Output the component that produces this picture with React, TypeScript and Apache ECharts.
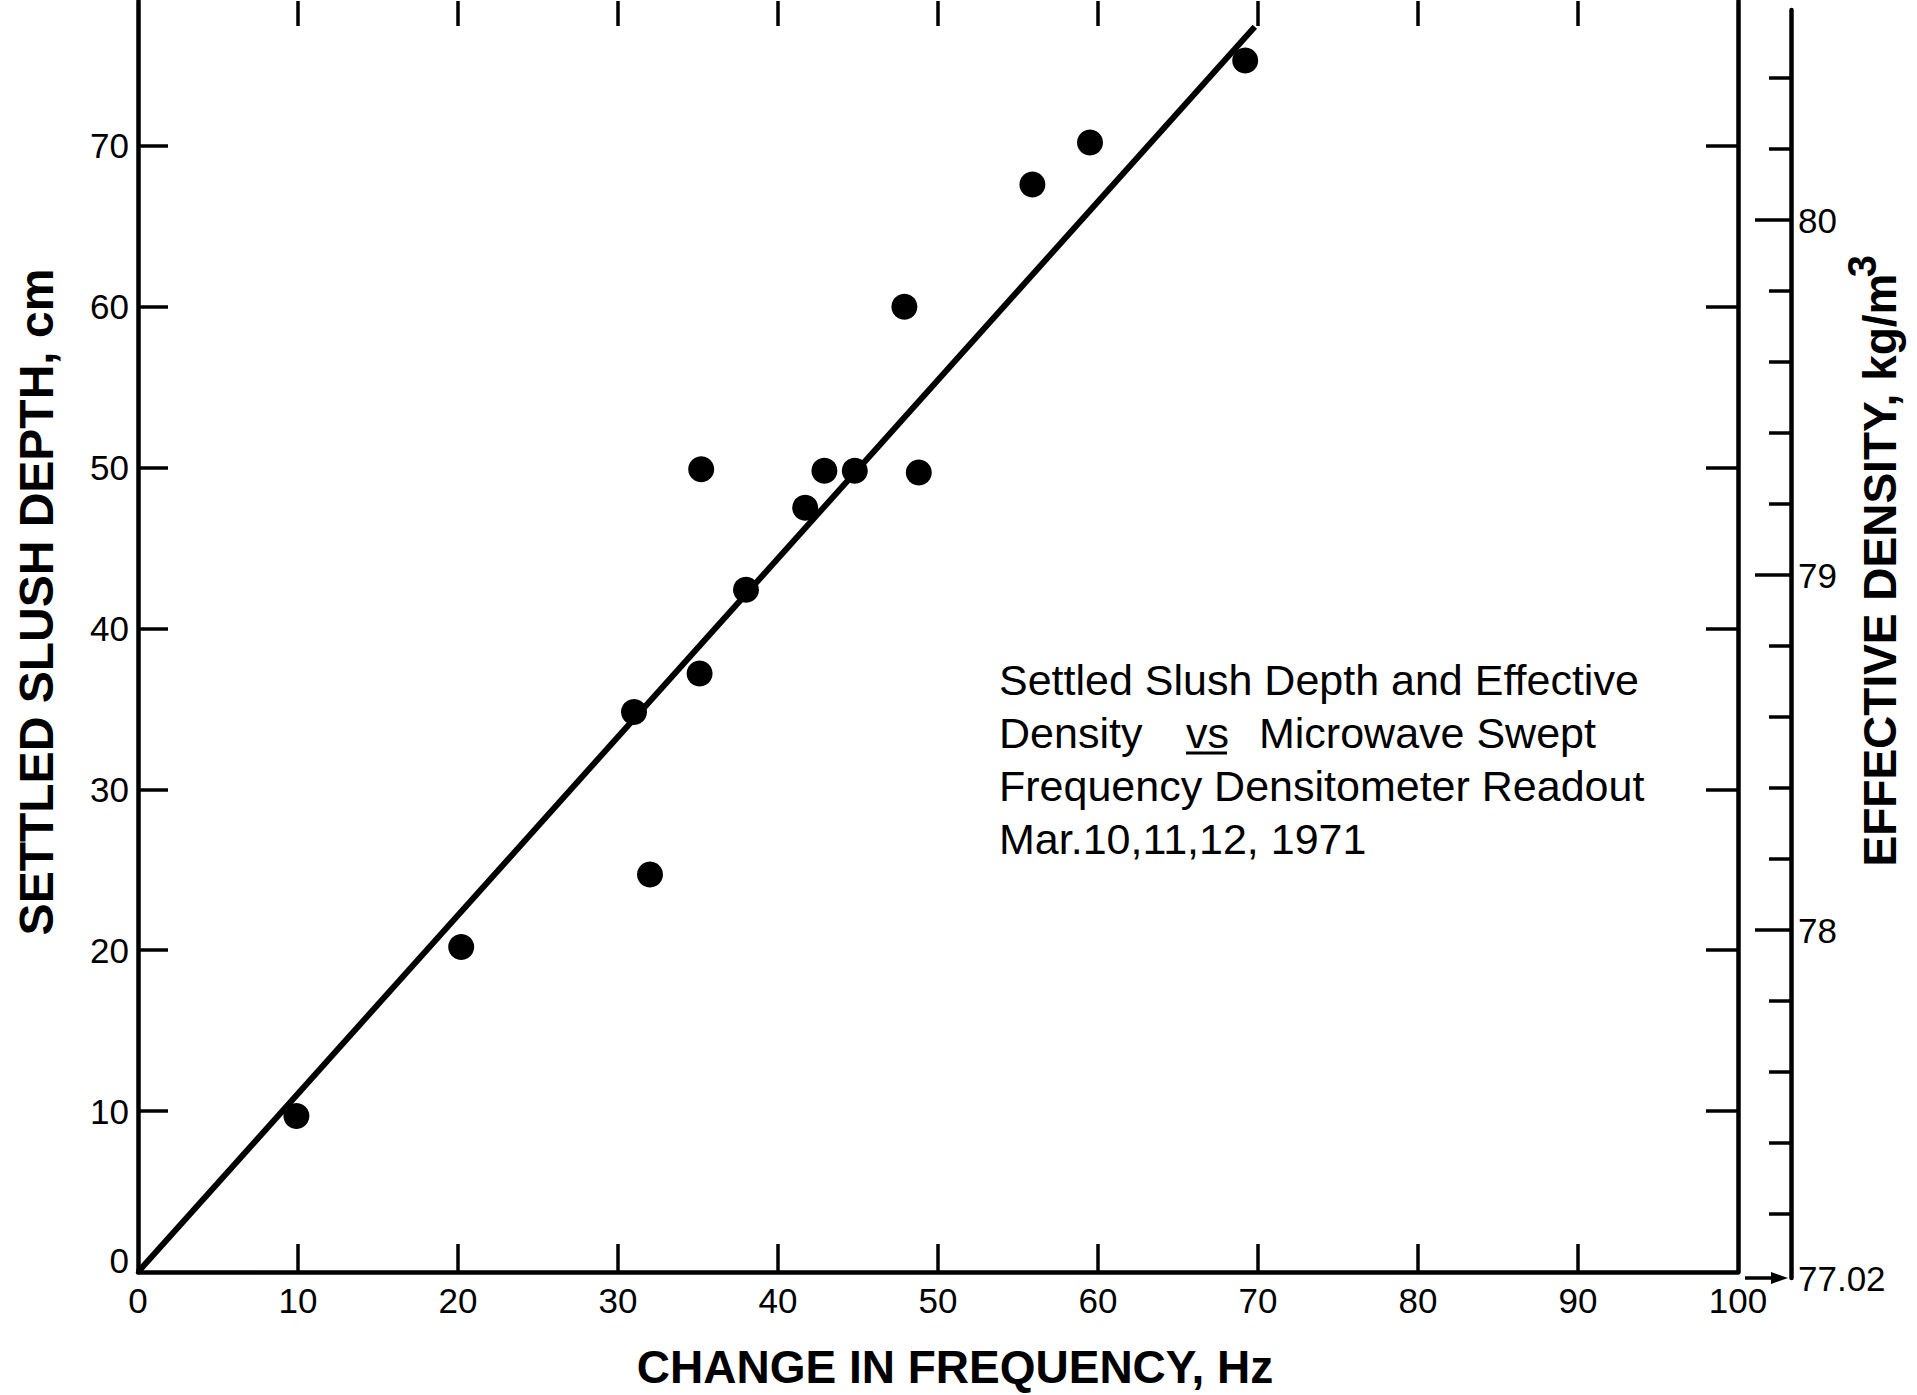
import React, { useEffect, useRef } from "react";
import * as echarts from "echarts";

// ---- data ----
const freqHz = [9.9, 20.2, 31.0, 32.0, 35.1, 35.2, 38.0, 41.7, 42.9, 44.8, 47.9, 48.8, 55.9, 59.5, 69.2];
const depthCm = [9.7, 20.2, 34.8, 24.7, 37.2, 49.9, 42.4, 47.5, 49.8, 49.8, 60.0, 49.7, 67.6, 70.2, 75.3];
const fitFreq = [0, 69.8];
const fitDepth = [0, 77.4];

const xTickLabels = [0, 10, 20, 30, 40, 50, 60, 70, 80, 90, 100];
const xInnerTicks = [10, 20, 30, 40, 50, 60, 70, 80, 90];
const depthTickLabels = [0, 10, 20, 30, 40, 50, 60, 70];
const depthInnerTicks = [10, 20, 30, 40, 50, 60, 70];
const densityLabels = [77.02, 78, 79, 80];
const densityMajorTicks = [78, 79, 80];
const densityMinorTicks = [77.2, 77.4, 77.6, 77.8, 78.2, 78.4, 78.6, 78.8, 79.2, 79.4, 79.6, 79.8, 80.2, 80.4];

const xName = "CHANGE IN FREQUENCY, Hz";
const leftName = "SETTLED SLUSH DEPTH, cm";
const rightName = "EFFECTIVE DENSITY, kg/m";
const rightNameSup = "3";
const noteLine1 = "Settled Slush Depth and Effective";
const noteLine2a = "Density";
const noteLine2b = "vs";
const noteLine2c = "Microwave Swept";
const noteLine3 = "Frequency Densitometer Readout";
const noteLine4 = "Mar.10,11,12, 1971";

const FONT = "'Liberation Sans', Arial, Helvetica, sans-serif";
const BLACK = "#000";

export default function App() {
  const ref = useRef<HTMLDivElement>(null);

  useEffect(() => {
    if (!ref.current) return;
    const chart = echarts.init(ref.current, undefined, { renderer: "svg" });
    const lineW = 4.5;
    const tickW = 3.5;

    const option: any = {
      animation: false,
      backgroundColor: "#fff",
      grid: [
        { left: 138, right: 179, top: 1, bottom: 123 },
        { left: 138, right: 126, top: 10, bottom: 117 },
      ],
      xAxis: [
        {
          type: "value",
          gridIndex: 0,
          position: "bottom",
          min: 0,
          max: 100,
          interval: 10,
          axisLine: { show: true, onZero: false, lineStyle: { color: BLACK, width: lineW } },
          axisTick: { show: true, inside: true, length: 28, customValues: xInnerTicks, lineStyle: { color: BLACK, width: tickW } },
          axisLabel: { show: true, customValues: xTickLabels, margin: 11, color: BLACK, fontSize: 35, fontFamily: FONT },
          splitLine: { show: false },
        },
        {
          type: "value",
          gridIndex: 0,
          position: "top",
          min: 0,
          max: 100,
          interval: 10,
          axisLine: { show: false, onZero: false },
          axisTick: { show: true, inside: true, length: 25, customValues: xInnerTicks, lineStyle: { color: BLACK, width: tickW } },
          axisLabel: { show: false },
          splitLine: { show: false },
        },
        {
          type: "value",
          gridIndex: 1,
          min: 0,
          max: 1,
          show: false,
          axisLine: { onZero: false },
          splitLine: { show: false },
        },
      ],
      yAxis: [
        {
          type: "value",
          gridIndex: 0,
          position: "left",
          min: 0,
          max: 79,
          axisLine: { show: true, onZero: false, lineStyle: { color: BLACK, width: lineW } },
          axisTick: { show: true, inside: true, length: 30, customValues: depthInnerTicks, lineStyle: { color: BLACK, width: tickW } },
          axisLabel: {
            show: true,
            customValues: depthTickLabels,
            margin: 9,
            color: BLACK,
            fontSize: 35,
            fontFamily: FONT,
            formatter: (v: number) => (v === 0 ? "{z|0}" : String(v)),
            rich: { z: { fontSize: 35, fontFamily: FONT, color: BLACK, padding: [0, 0, 24, 0] } },
          },
          splitLine: { show: false },
        },
        {
          type: "value",
          gridIndex: 0,
          position: "right",
          min: 0,
          max: 79,
          axisLine: { show: true, onZero: false, lineStyle: { color: BLACK, width: lineW } },
          axisTick: { show: true, inside: true, length: 32, customValues: depthInnerTicks, lineStyle: { color: BLACK, width: tickW } },
          axisLabel: { show: false },
          splitLine: { show: false },
        },
        {
          type: "value",
          gridIndex: 1,
          position: "right",
          min: 77.02,
          max: 80.592,
          axisLine: { show: true, onZero: false, lineStyle: { color: BLACK, width: lineW } },
          axisTick: { show: true, inside: true, length: 36, customValues: densityMajorTicks, lineStyle: { color: BLACK, width: tickW } },
          axisLabel: { show: true, customValues: densityLabels, margin: 7, color: BLACK, fontSize: 35, fontFamily: FONT },
          splitLine: { show: false },
        },
        {
          type: "value",
          gridIndex: 1,
          position: "right",
          min: 77.02,
          max: 80.592,
          axisLine: { show: false, onZero: false },
          axisTick: { show: true, inside: true, length: 22, customValues: densityMinorTicks, lineStyle: { color: BLACK, width: tickW } },
          axisLabel: { show: false },
          splitLine: { show: false },
        },
      ],
      series: [
        {
          type: "line",
          xAxisIndex: 0,
          yAxisIndex: 0,
          data: fitFreq.map((x, i) => [x, fitDepth[i]]),
          symbol: "none",
          lineStyle: { color: BLACK, width: 6, opacity: 1 },
          z: 2,
          silent: true,
        },
        {
          type: "scatter",
          xAxisIndex: 0,
          yAxisIndex: 0,
          data: freqHz.map((x, i) => [x, depthCm[i]]),
          symbol: "circle",
          symbolSize: 26,
          itemStyle: { color: BLACK, opacity: 1 },
          z: 3,
          silent: true,
        },
      ],
    };

    chart.setOption(option);

    const yArrow = chart.convertToPixel({ yAxisIndex: 2 }, 77.02) as number;
    const xBox = chart.convertToPixel({ xAxisIndex: 0 }, 100) as number;
    const xAx = chart.convertToPixel({ xAxisIndex: 2 }, 1) as number;

    const boldName = (text: string, x: number, y: number, size: number, rotation = 0) => ({
      type: "text",
      x,
      y,
      rotation,
      silent: true,
      style: {
        text,
        fill: BLACK,
        fontSize: size,
        fontWeight: "bold",
        fontFamily: FONT,
        textAlign: "center",
        textVerticalAlign: "middle",
      },
    });
    const note = (text: string, x: number, y: number) => ({
      type: "text",
      x,
      y,
      silent: true,
      style: {
        text,
        fill: BLACK,
        fontSize: 43,
        fontFamily: FONT,
        textAlign: "left",
        textVerticalAlign: "middle",
      },
    });

    chart.setOption({
      graphic: [
        boldName(xName, 955, 1367, 46),
        boldName(leftName, 36, 602, 48, Math.PI / 2),
        boldName(rightName, 1880, 570, 46, Math.PI / 2),
        boldName(rightNameSup, 1862, 266, 40, Math.PI / 2),
        note(noteLine1, 999, 680),
        note(noteLine2a, 999, 733),
        note(noteLine2b, 1186, 733),
        note(noteLine2c, 1259, 733),
        note(noteLine3, 999, 786),
        note(noteLine4, 999, 839),
        {
          type: "line",
          silent: true,
          shape: { x1: 1186, y1: 753, x2: 1227, y2: 753 },
          style: { stroke: BLACK, lineWidth: 3 },
        },
        {
          type: "line",
          silent: true,
          shape: { x1: xBox + 7, y1: yArrow, x2: xAx - 14, y2: yArrow },
          style: { stroke: BLACK, lineWidth: 3.5 },
        },
        {
          type: "polygon",
          silent: true,
          shape: { points: [[xAx - 20, yArrow - 6], [xAx - 3, yArrow], [xAx - 20, yArrow + 6]] },
          style: { fill: BLACK },
        },
      ],
    });

    return () => chart.dispose();
  }, []);

  return (
    <div
      ref={ref}
      style={{ position: "absolute", left: 0, top: 0, width: 1917, height: 1395, background: "#fff" }}
    />
  );
}
